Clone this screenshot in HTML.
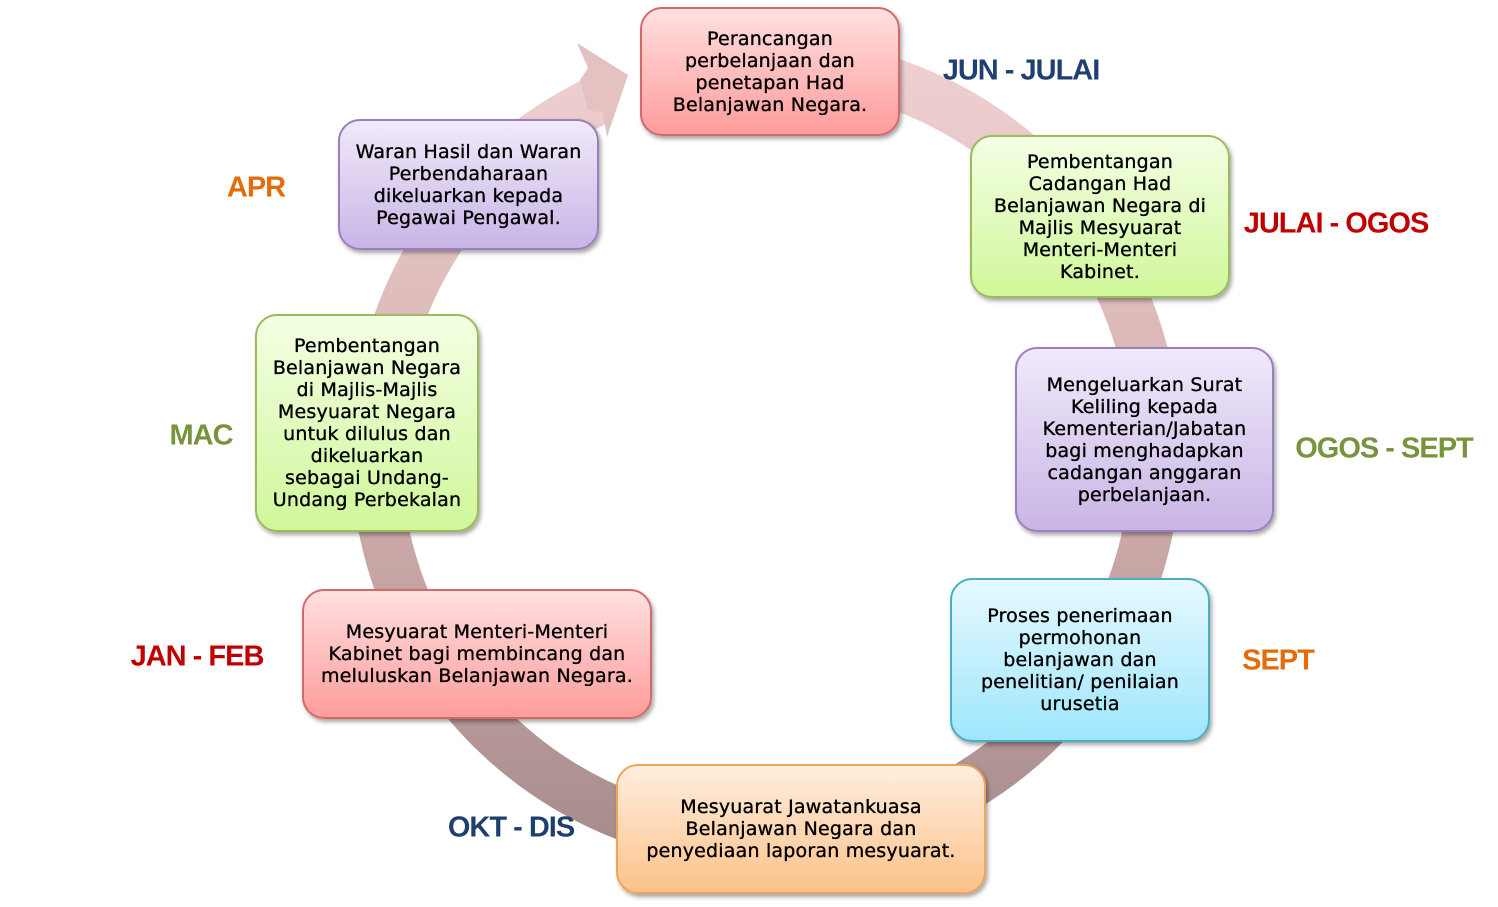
<!DOCTYPE html>
<html><head><meta charset="utf-8"><style>
body{margin:0;width:1498px;height:907px;background:#fff;position:relative;overflow:hidden;font-family:"DejaVu Sans","Liberation Sans",sans-serif}
.b{position:absolute;border-radius:22px;display:flex;align-items:center;justify-content:center;text-align:center;font-size:19px;line-height:22px;color:#000;box-shadow:2px 3px 4px rgba(0,0,0,.35);box-sizing:border-box;padding:0 4px;letter-spacing:0.2px;white-space:nowrap;-webkit-text-stroke:0.35px #000}
.red{background:linear-gradient(#ffe0e0,#ff9c9c);border:2px solid #d36a6a}
.grn{background:linear-gradient(#f4ffe4,#d0f79a);border:2px solid #9bbb59}
.pur{background:linear-gradient(#f0eafa,#c9b5e6);border:2px solid #9a7fc0}
.cya{background:linear-gradient(#e6f9ff,#9fe6fb);border:2px solid #4bacc6}
.org{background:linear-gradient(#ffeede,#fcc28a);border:2px solid #f2a35a}
.l{position:absolute;font-family:"Liberation Sans",sans-serif;font-weight:bold;font-size:29px;letter-spacing:-1px;white-space:nowrap;transform:translate(-50%,-50%)}
</style></head><body>
<svg width="1498" height="907" style="position:absolute;left:0;top:0">
<defs><linearGradient id="g" x1="0" y1="0" x2="0" y2="1"><stop offset="0" stop-color="#efd0d0"/><stop offset="0.5" stop-color="#d4b0b0"/><stop offset="1" stop-color="#a88c8c"/></linearGradient></defs>
<path d="M766,62 A390,390 0 1 1 601,98.6" fill="none" stroke="url(#g)" stroke-width="50"/>
<polygon points="577,43 628,75 607,137 603,113 588,110 580,80 588,68" fill="#e4c2c2"/>
</svg>
<div class="b red" style="left:640px;top:7px;width:260px;height:129px">Perancangan<br>perbelanjaan dan<br>penetapan Had<br>Belanjawan Negara.</div>
<div class="b grn" style="left:970px;top:135px;width:260px;height:163px">Pembentangan<br>Cadangan Had<br>Belanjawan Negara di<br>Majlis Mesyuarat<br>Menteri-Menteri<br>Kabinet.</div>
<div class="b pur" style="left:1015px;top:347px;width:259px;height:185px">Mengeluarkan Surat<br>Keliling kepada<br>Kementerian/Jabatan<br>bagi menghadapkan<br>cadangan anggaran<br>perbelanjaan.</div>
<div class="b cya" style="left:950px;top:578px;width:260px;height:164px">Proses penerimaan<br>permohonan<br>belanjawan dan<br>penelitian/ penilaian<br>urusetia</div>
<div class="b org" style="left:616px;top:764px;width:370px;height:130px">Mesyuarat Jawatankuasa<br>Belanjawan Negara dan<br>penyediaan laporan mesyuarat.</div>
<div class="b red" style="left:302px;top:589px;width:350px;height:130px">Mesyuarat Menteri-Menteri<br>Kabinet bagi membincang dan<br>meluluskan Belanjawan Negara.</div>
<div class="b grn" style="left:255px;top:314px;width:224px;height:218px">Pembentangan<br>Belanjawan Negara<br>di Majlis-Majlis<br>Mesyuarat Negara<br>untuk dilulus dan<br>dikeluarkan<br>sebagai Undang-<br>Undang Perbekalan</div>
<div class="b pur" style="left:338px;top:119px;width:261px;height:131px">Waran Hasil dan Waran<br>Perbendaharaan<br>dikeluarkan kepada<br>Pegawai Pengawal.</div>
<div class="l" style="left:1021px;top:71px;color:#1f3f6f">JUN - JULAI</div>
<div class="l" style="left:1336px;top:224px;color:#c00000">JULAI - OGOS</div>
<div class="l" style="left:1384px;top:449px;color:#77933c">OGOS - SEPT</div>
<div class="l" style="left:1278px;top:661px;color:#e46c0a">SEPT</div>
<div class="l" style="left:511px;top:828px;color:#1f3f6f">OKT - DIS</div>
<div class="l" style="left:197px;top:657px;color:#c00000">JAN - FEB</div>
<div class="l" style="left:201px;top:436px;color:#77933c">MAC</div>
<div class="l" style="left:256px;top:188px;color:#e46c0a">APR</div>
</body></html>
